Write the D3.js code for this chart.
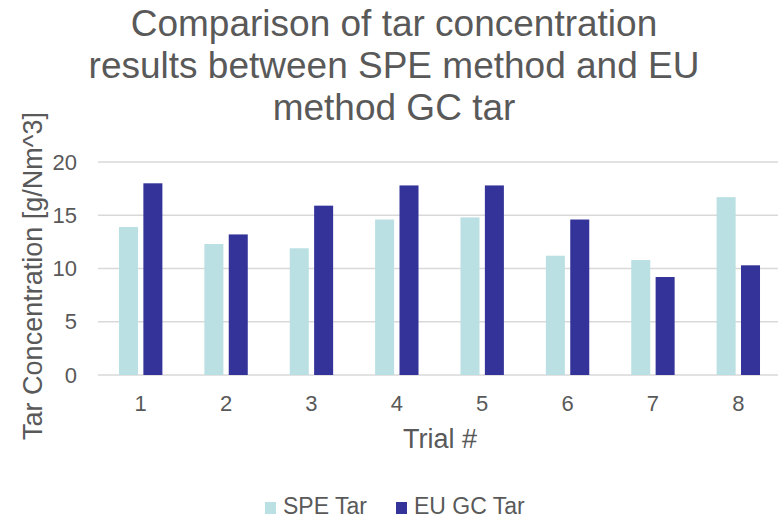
<!DOCTYPE html>
<html>
<head>
<meta charset="utf-8">
<script src="https://cdn.jsdelivr.net/npm/d3@7"></script>
<style>
  body { margin: 0; background: #fff; }
  text { font-family: "Liberation Sans", Arial, sans-serif; fill: #595959; }
</style>
</head>
<body>
<div class="container"></div>
<script>
const trials = ['1', '2', '3', '4', '5', '6', '7', '8'];
const speTar = [13.9, 12.3, 11.9, 14.6, 14.8, 11.2, 10.8, 16.7];
const euGcTar = [18.0, 13.2, 15.9, 17.8, 17.8, 14.6, 9.2, 10.3];
const seriesNames = ['SPE Tar', 'EU GC Tar'];
const seriesColors = ['#bae0e3', '#333399'];
const yTicks = [0, 5, 10, 15, 20];
const titleLines = ['Comparison of tar concentration', 'results between SPE method and EU', 'method GC tar'];

const w = 778;
const h = 519;

const margin = {
    top: 162,
    right: -3,
    bottom: 144,
    left: 98
}

const svg = d3.select('.container')
    .append('svg')
    .attr('width', w)
    .attr('height', h)
    .attr('viewBox', [0, 0, w, h]);

const x = d3.scaleBand()
    .domain(trials)
    .range([margin.left, w - margin.right]);

const groupWidth = 43.4;
const xInner = d3.scaleBand()
    .domain(seriesNames)
    .range([0, groupWidth])
    .paddingInner(0.22);

const y = d3.scaleLinear()
    .domain([0, 20])
    .range([h - margin.bottom, margin.top]);

// title
svg.append('g')
    .selectAll('text')
    .data(titleLines)
    .join('text')
    .attr('x', 394)
    .attr('y', (d, i) => 36 + i * 42)
    .attr('text-anchor', 'middle')
    .style('font-size', '37px')
    .text(d => d);

// gridlines
svg.append('g')
    .selectAll('line')
    .data(yTicks)
    .join('line')
    .attr('x1', margin.left)
    .attr('x2', w)
    .attr('y1', d => y(d))
    .attr('y2', d => y(d))
    .attr('stroke', '#d9d9d9')
    .attr('stroke-width', 1.6);

// y axis labels
svg.append('g')
    .attr('transform', `translate(77,0)`)
    .call(d3.axisLeft(y).tickValues(yTicks).tickSize(0).tickPadding(0))
    .call(g => g.select('.domain').remove())
    .call(g => g.selectAll('text')
        .style('font-size', '22px')
        .attr('fill', '#595959')
        .attr('font-family', '"Liberation Sans", Arial, sans-serif'));

// x axis labels
svg.append('g')
    .attr('transform', `translate(0,${h - margin.bottom})`)
    .call(d3.axisBottom(x).tickSize(0).tickPadding(0))
    .call(g => g.select('.domain').remove())
    .call(g => g.selectAll('text')
        .attr('dy', null)
        .attr('y', 36)
        .style('font-size', '22px')
        .attr('fill', '#595959')
        .attr('font-family', '"Liberation Sans", Arial, sans-serif'));

// bars
const groups = svg.append('g')
    .selectAll('g')
    .data(trials)
    .join('g')
    .attr('transform', d => `translate(${x(d) + x.bandwidth() / 2 - groupWidth / 2},0)`);

groups.selectAll('rect')
    .data((d, i) => [
        { key: seriesNames[0], value: speTar[i], color: seriesColors[0] },
        { key: seriesNames[1], value: euGcTar[i], color: seriesColors[1] }
    ])
    .join('rect')
    .attr('x', d => xInner(d.key))
    .attr('y', d => y(d.value))
    .attr('width', xInner.bandwidth())
    .attr('height', d => y(0) - y(d.value))
    .attr('fill', d => d.color);

// axis titles
svg.append('text')
    .attr('x', 440)
    .attr('y', 448)
    .attr('text-anchor', 'middle')
    .style('font-size', '27px')
    .text('Trial #');

svg.append('text')
    .attr('transform', `translate(42, 276) rotate(-90)`)
    .attr('text-anchor', 'middle')
    .style('font-size', '27px')
    .text('Tar Concentration [g/Nm^3]');

// legend
const legendItems = [
    { name: seriesNames[0], color: seriesColors[0], x: 265 },
    { name: seriesNames[1], color: seriesColors[1], x: 396 }
];
const legend = svg.append('g')
    .selectAll('g')
    .data(legendItems)
    .join('g')
    .attr('transform', d => `translate(${d.x},0)`);
legend.append('rect')
    .attr('x', 0)
    .attr('y', 502)
    .attr('width', 11)
    .attr('height', 12)
    .attr('fill', d => d.color);
legend.append('text')
    .attr('x', 18)
    .attr('y', 514)
    .style('font-size', '23px')
    .text(d => d.name);
</script>
</body>
</html>
